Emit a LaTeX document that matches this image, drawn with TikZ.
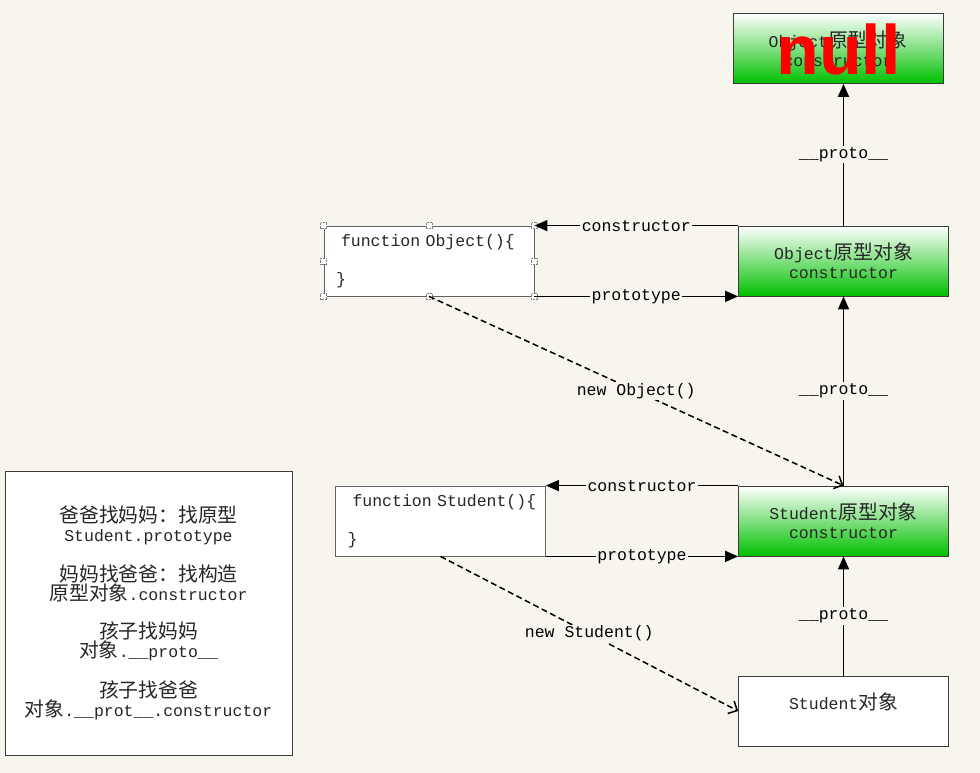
\documentclass[tikz,border=0pt]{standalone}
\usepackage{fontspec}
\usepackage{xcolor}
\setmainfont{Liberation Mono}
\newfontfamily\cjk[Scale=1.2]{Noto Sans CJK SC}
\newfontfamily\bigsans{Liberation Sans}
\usetikzlibrary{positioning, arrows.meta}

\definecolor{paper}{RGB}{248,245,238}
\definecolor{boxgreen}{RGB}{0,192,0}
\definecolor{boxline}{RGB}{60,60,60}

\tikzset{
  protobox/.style={rectangle, draw=boxline, thick, top color=white, bottom color=boxgreen, minimum width=210pt, minimum height=70pt, align=center, text=black!85},
  codebox/.style={rectangle, draw=boxline!80, thick, fill=white, minimum width=210pt, minimum height=70pt, align=left, text width=186pt, text=black!85},
  objbox/.style={rectangle, draw=boxline, thick, fill=white, minimum width=210pt, minimum height=70pt, align=center, text=black!85},
  handle/.style={rectangle, draw=gray, densely dotted, fill=white, minimum size=6pt, inner sep=0pt},
  link/.style={-{Triangle[length=13pt,width=11pt]}, line width=1.7pt},
  newlink/.style={-{Straight Barb[length=7pt,width=14pt]}, line width=1.5pt, dash pattern=on 6pt off 3.5pt},
  lbl/.style={fill=paper, inner sep=1.5pt, text=black}
}

\begin{document}
\begin{tikzpicture}[x=1pt, y=-1pt, font=\fontsize{16.5}{19}\selectfont]
  \useasboundingbox (0,0) rectangle (980,773);
  \fill[paper] (0,0) rectangle (980,773);

  % prototype chain
  \node[protobox] (top) at (838,48.5) {Object{\cjk 原型对象}\\constructor};
  \node[text=red, font=\bigsans\bfseries\fontsize{70}{70}\selectfont, anchor=base, inner sep=0pt] (null) at (838.5,75) {null};
  \node[protobox] (pobj) at (843.5,261) {Object{\cjk 原型对象}\\constructor};
  \node[protobox] (sproto) at (843.5,521) {Student{\cjk 原型对象}\\constructor};
  \node[objbox] (sobj) at (843.5,711) {Student{\cjk 对象}\\\mbox{}};

  % constructors
  \node[codebox] (fobj) at (429,261) {\mbox{\hspace{5pt}function Object()\{}\\[19pt]\}};
  \foreach \a [count=\i] in {north west, north, north east, east, south east, south, south west, west}
    \node[handle] (h\i) at (fobj.\a) {};
  \node[codebox] (fstu) at (440.5,521) {\mbox{\hspace{5pt}function Student()\{}\\[19pt]\}};

  % legend
  \node[draw=boxline, thick, fill=white, minimum width=287pt, minimum height=284pt, align=center, text=black!85] (legend) at (148.5,613)
    {{\cjk 爸爸找妈妈：找原型}\\Student.prototype\\[19pt]
     {\cjk 妈妈找爸爸：找构造}\\{\cjk 原型对象}.constructor\\[19pt]
     {\cjk 孩子找妈妈}\\{\cjk 对象}.\_\_proto\_\_\\[19pt]
     {\cjk 孩子找爸爸}\\{\cjk 对象}.\_\_prot\_\_.constructor};

  \draw[link] (pobj.north) -- node[lbl] {\_\_proto\_\_} (pobj.north |- top.south);
  \draw[link] (sproto.north) -- node[lbl] {\_\_proto\_\_} (pobj.south);
  \draw[link] (sobj.north) -- node[lbl] {\_\_proto\_\_} (sproto.south);

  \draw[link] (pobj.north west) -- node[lbl] {constructor} (fobj.north east);
  \draw[link] (fobj.south east) -- node[lbl] {prototype} (pobj.south west);
  \draw[link] (sproto.north west) -- node[lbl] {constructor} (fstu.north east);
  \draw[link] (fstu.south east) -- node[lbl] {prototype} (sproto.south west);

  \draw[newlink] (fobj.south) -- node[lbl] {new Object()} (sproto.north);
  \draw[newlink] (fstu.south) -- node[lbl] {new Student()} (sobj.west);
\end{tikzpicture}
\end{document}
